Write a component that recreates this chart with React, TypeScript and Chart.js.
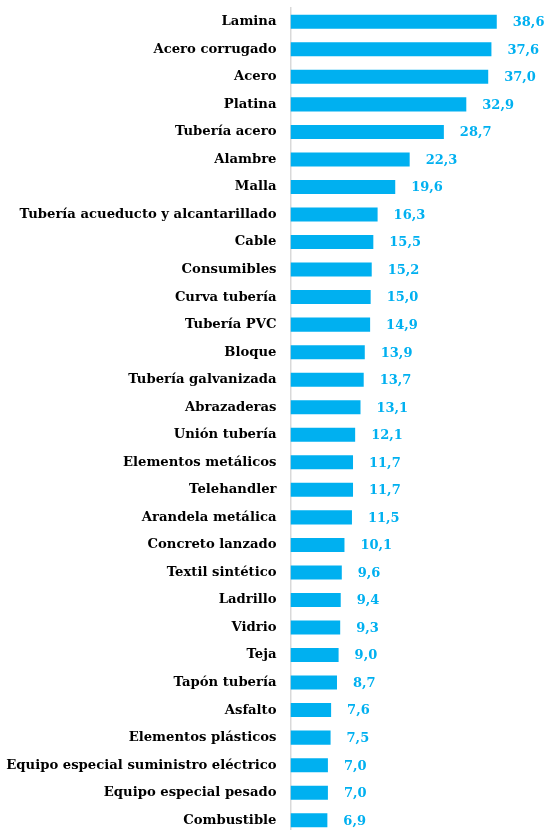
import React, { useEffect, useRef } from "react";
import { Chart, registerables } from "chart.js";

Chart.register(...registerables);

const categories = [
  "Lamina",
  "Acero corrugado",
  "Acero",
  "Platina",
  "Tubería acero",
  "Alambre",
  "Malla",
  "Tubería acueducto y alcantarillado",
  "Cable",
  "Consumibles",
  "Curva tubería",
  "Tubería PVC",
  "Bloque",
  "Tubería galvanizada",
  "Abrazaderas",
  "Unión tubería",
  "Elementos metálicos",
  "Telehandler",
  "Arandela metálica",
  "Concreto lanzado",
  "Textil sintético",
  "Ladrillo",
  "Vidrio",
  "Teja",
  "Tapón tubería",
  "Asfalto",
  "Elementos plásticos",
  "Equipo especial suministro eléctrico",
  "Equipo especial pesado",
  "Combustible",
];

const values = [
  38.6, 37.6, 37.0, 32.9, 28.7, 22.3, 19.6, 16.3, 15.5, 15.2, 15.0, 14.9, 13.9,
  13.7, 13.1, 12.1, 11.7, 11.7, 11.5, 10.1, 9.6, 9.4, 9.3, 9.0, 8.7, 7.6, 7.5,
  7.0, 7.0, 6.9,
];

const BLUE = "#00B0F0";
const FONT = "'DejaVu Serif', serif";

const valueLabels = {
  id: "valueLabels",
  afterDatasetsDraw(chart: any) {
    const ctx = chart.ctx;
    const meta = chart.getDatasetMeta(0);
    ctx.save();
    ctx.fillStyle = BLUE;
    ctx.font = `bold 13px ${FONT}`;
    ctx.textAlign = "left";
    ctx.textBaseline = "middle";
    meta.data.forEach((bar: any, i: number) => {
      const v = values[i].toFixed(1).replace(".", ",");
      ctx.fillText(v, bar.x + 16, bar.y + 1);
    });
    ctx.restore();
  },
};

export default function App() {
  const ref = useRef<HTMLCanvasElement | null>(null);
  useEffect(() => {
    if (!ref.current) return;
    const chart = new Chart(ref.current, {
      type: "bar",
      data: {
        labels: categories,
        datasets: [
          {
            data: values,
            backgroundColor: BLUE,
            barPercentage: 0.51,
            categoryPercentage: 1,
          },
        ],
      },
      options: {
        indexAxis: "y",
        animation: false,
        responsive: false,
        devicePixelRatio: 1,
        layout: { padding: { top: 8, bottom: 6, left: 0, right: 0 } },
        plugins: {
          legend: { display: false },
          tooltip: { enabled: false },
        },
        scales: {
          x: {
            display: false,
            min: 0,
            max: 48,
            grid: { display: false },
          },
          y: {
            afterFit: (scale: any) => {
              scale.width = 290.5;
              scale.paddingTop = 0;
              scale.paddingBottom = 0;
            },
            grid: { display: false, drawTicks: false },
            border: { display: true, color: "#d9d9d9", width: 1.5 },
            ticks: {
              color: "#000000",
              padding: 14,
              font: { family: FONT, size: 13.2, weight: "bold" },
              autoSkip: false,
            },
          },
        },
      },
      plugins: [valueLabels],
    });
    return () => chart.destroy();
  }, []);
  return (
    <div style={{ position: "fixed", left: 0, top: 0, width: 547, height: 840 }}>
      <canvas ref={ref} width={547} height={840} />
    </div>
  );
}
